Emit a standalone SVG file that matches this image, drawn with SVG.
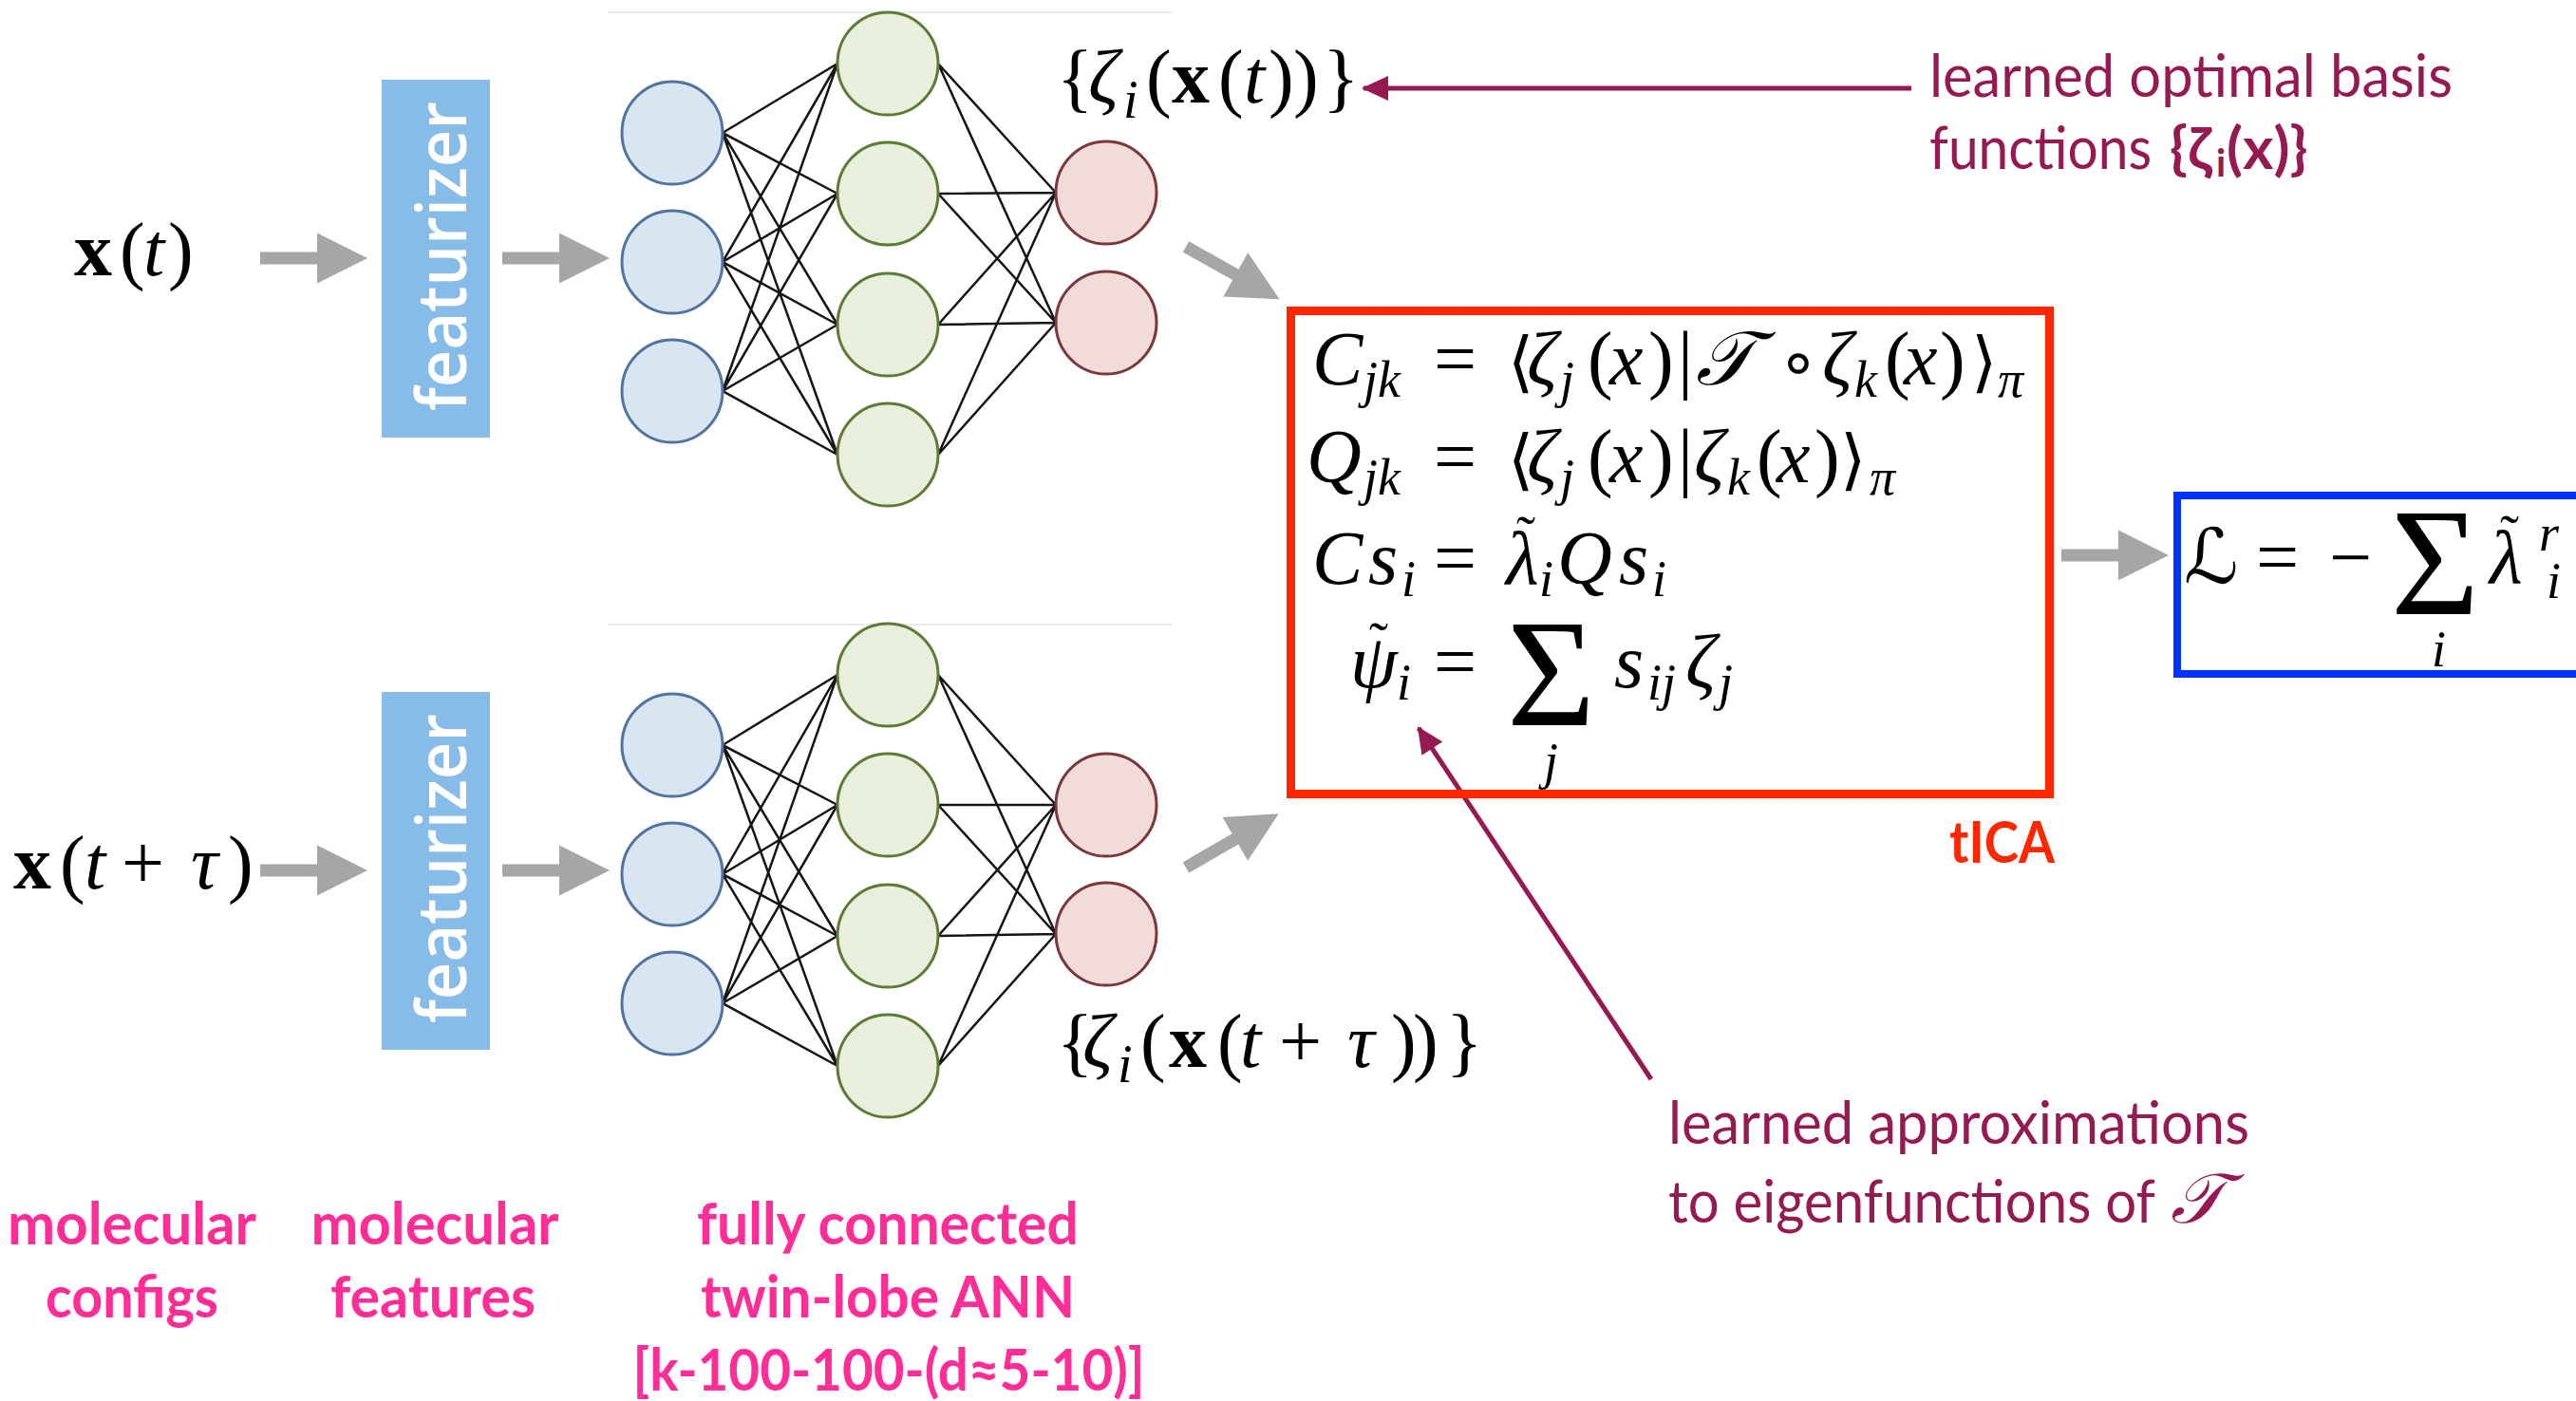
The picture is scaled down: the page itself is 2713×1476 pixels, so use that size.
<svg xmlns="http://www.w3.org/2000/svg" xmlns:xlink="http://www.w3.org/1999/xlink" width="2713" height="1476" viewBox="0 0 2713 1476">
  <defs>
    <style>
      .m { font-family: 'Liberation Serif', 'DejaVu Serif', serif; font-size: 80px; fill: #000; }
      .it { font-style: italic; }
      .bf { font-weight: bold; }
      .sb { font-size: 54px; }
      .tl { font-size: 60px; font-style: normal; }
      .ab { font-family: 'DejaVu Sans', sans-serif; font-size: 70px; }
      .scr { font-family: 'DejaVu Serif', 'DejaVu Sans', 'Liberation Serif', serif; font-style: italic; }
      .feat { font-family: 'Open Sans', 'Noto Sans', sans-serif; font-weight: 600; font-size: 72px; fill: #fff; }
      .featbox { fill: #87BCE9; }
      .pink { font-family: Lato, 'Noto Sans', sans-serif; font-weight: bold; font-size: 62px; fill: #FF2E96; }
      .note { font-family: Lato, 'Noto Sans', sans-serif; font-size: 62px; fill: #951A52; }
      .nb { fill: #DAE5F2; stroke: #50739F; stroke-width: 3; }
      .ng { fill: #E8EFDC; stroke: #5C7B35; stroke-width: 3; }
      .nr { fill: #F2DCDB; stroke: #7A3838; stroke-width: 3; }
      .edge { stroke: #151515; stroke-width: 2.5; fill: none; }
      .sep { stroke: #EBEBEB; stroke-width: 2; }
      .fat { fill: #A6A6A6; }
      .pline { stroke: #951A52; stroke-width: 5; fill: none; }
    </style>
    <path id="fat-arrow" d="M0,-6.5 H60 V-26.5 L113,0 L60,26.5 V6.5 H0 Z"/>
    <marker id="phead" markerUnits="userSpaceOnUse" markerWidth="30" markerHeight="28" refX="26" refY="13" orient="auto">
      <path d="M0,0 L28,13 L0,26 Z" fill="#951A52"/>
    </marker>
  </defs>

  <rect width="2713" height="1476" fill="#fff"/>

  <!-- thin rules above each network lobe -->
  <line class="sep" x1="640" y1="13" x2="1234" y2="13"/>
  <line class="sep" x1="640" y1="658" x2="1234" y2="658"/>

  <g id="connectors">
    <g class="edge">
      <!-- upper lobe: input -> hidden -> output -->
      <path d="M761,140 L882,67 M761,140 L882,204 M761,140 L882,342 M761,140 L882,479
               M761,276 L882,67 M761,276 L882,204 M761,276 L882,342 M761,276 L882,479
               M761,412 L882,67 M761,412 L882,204 M761,412 L882,342 M761,412 L882,479
               M988,67 L1112,203 M988,67 L1112,340 M988,204 L1112,203 M988,204 L1112,340
               M988,342 L1112,203 M988,342 L1112,340 M988,479 L1112,203 M988,479 L1112,340"/>
      <!-- lower lobe -->
      <path d="M761,785 L882,711 M761,785 L882,848 M761,785 L882,986 M761,785 L882,1123
               M761,921 L882,711 M761,921 L882,848 M761,921 L882,986 M761,921 L882,1123
               M761,1057 L882,711 M761,1057 L882,848 M761,1057 L882,986 M761,1057 L882,1123
               M988,711 L1112,848 M988,711 L1112,984 M988,848 L1112,848 M988,848 L1112,984
               M988,986 L1112,848 M988,986 L1112,984 M988,1123 L1112,848 M988,1123 L1112,984"/>
    </g>
    <!-- grey flow arrows -->
    <g class="fat">
      <use xlink:href="#fat-arrow" transform="translate(274,272)"/>
      <use xlink:href="#fat-arrow" transform="translate(529,272)"/>
      <use xlink:href="#fat-arrow" transform="translate(274,917)"/>
      <use xlink:href="#fat-arrow" transform="translate(529,917)"/>
      <use xlink:href="#fat-arrow" transform="translate(1249,260) rotate(29.3)"/>
      <use xlink:href="#fat-arrow" transform="translate(1249,914) rotate(-30.2)"/>
      <use xlink:href="#fat-arrow" transform="translate(2171,585)"/>
    </g>
    <!-- annotation pointers -->
    <line class="pline" x1="2013" y1="93" x2="1436" y2="93" marker-end="url(#phead)"/>
    <line class="pline" x1="1739" y1="1137" x2="1494" y2="767" marker-end="url(#phead)"/>
  </g>

  <!-- inputs -->
  <g id="input-xt">
    <text class="m" font-size="84"><tspan class="bf" x="78" y="290">x</tspan><tspan x="126" y="290">(</tspan><tspan class="it" x="151" y="290">t</tspan><tspan x="177" y="290">)</tspan></text>
  </g>
  <g id="input-xttau">
    <text class="m" font-size="84"><tspan class="bf" x="14" y="936">x</tspan><tspan x="63" y="936">(</tspan><tspan class="it" x="89" y="936">t</tspan><tspan x="128" y="936">+</tspan><tspan class="it" x="201" y="936">τ</tspan><tspan x="240" y="936">)</tspan></text>
  </g>

  <!-- featurizers -->
  <g id="featurizer-top">
    <rect class="featbox" x="402" y="84" width="114" height="377"/>
    <text class="feat" transform="translate(491,270) rotate(-90)" text-anchor="middle" textLength="326" lengthAdjust="spacingAndGlyphs">featurizer</text>
  </g>
  <g id="featurizer-bottom">
    <rect class="featbox" x="402" y="729" width="114" height="377"/>
    <text class="feat" transform="translate(491,915) rotate(-90)" text-anchor="middle" textLength="326" lengthAdjust="spacingAndGlyphs">featurizer</text>
  </g>

  <!-- upper network lobe -->
  <g id="net-top">
    <g id="top-in-1"><ellipse class="nb" cx="708" cy="140" rx="53" ry="54"/></g>
    <g id="top-in-2"><ellipse class="nb" cx="708" cy="276" rx="53" ry="54"/></g>
    <g id="top-in-3"><ellipse class="nb" cx="708" cy="412" rx="53" ry="54"/></g>
    <g id="top-hid-1"><ellipse class="ng" cx="935" cy="67" rx="53" ry="54"/></g>
    <g id="top-hid-2"><ellipse class="ng" cx="935" cy="204" rx="53" ry="54"/></g>
    <g id="top-hid-3"><ellipse class="ng" cx="935" cy="342" rx="53" ry="54"/></g>
    <g id="top-hid-4"><ellipse class="ng" cx="935" cy="479" rx="53" ry="54"/></g>
    <g id="top-out-1"><ellipse class="nr" cx="1165" cy="203" rx="53" ry="54"/></g>
    <g id="top-out-2"><ellipse class="nr" cx="1165" cy="340" rx="53" ry="54"/></g>
  </g>

  <!-- lower network lobe -->
  <g id="net-bottom">
    <g id="bot-in-1"><ellipse class="nb" cx="708" cy="785" rx="53" ry="54"/></g>
    <g id="bot-in-2"><ellipse class="nb" cx="708" cy="921" rx="53" ry="54"/></g>
    <g id="bot-in-3"><ellipse class="nb" cx="708" cy="1057" rx="53" ry="54"/></g>
    <g id="bot-hid-1"><ellipse class="ng" cx="935" cy="711" rx="53" ry="54"/></g>
    <g id="bot-hid-2"><ellipse class="ng" cx="935" cy="848" rx="53" ry="54"/></g>
    <g id="bot-hid-3"><ellipse class="ng" cx="935" cy="986" rx="53" ry="54"/></g>
    <g id="bot-hid-4"><ellipse class="ng" cx="935" cy="1123" rx="53" ry="54"/></g>
    <g id="bot-out-1"><ellipse class="nr" cx="1165" cy="848" rx="53" ry="54"/></g>
    <g id="bot-out-2"><ellipse class="nr" cx="1165" cy="984" rx="53" ry="54"/></g>
  </g>

  <!-- output set labels -->
  <g id="zeta-top">
    <text class="m" font-size="84"><tspan x="1113" y="108">{</tspan><tspan class="it" x="1146" y="108">ζ</tspan><tspan class="it" font-size="56" x="1183" y="124">i</tspan><tspan x="1207" y="108">(</tspan><tspan class="bf" x="1234" y="108">x</tspan><tspan x="1283" y="108">(</tspan><tspan class="it" x="1310" y="108">t</tspan><tspan x="1336" y="108">)</tspan><tspan x="1362" y="108">)</tspan><tspan x="1393" y="108">}</tspan></text>
  </g>
  <g id="zeta-bottom">
    <text class="m" font-size="84"><tspan x="1113" y="1124">{</tspan><tspan class="it" x="1140" y="1124">ζ</tspan><tspan class="it" font-size="56" x="1177" y="1140">i</tspan><tspan x="1201" y="1124">(</tspan><tspan class="bf" x="1231" y="1124">x</tspan><tspan x="1282" y="1124">(</tspan><tspan class="it" x="1306" y="1124">t</tspan><tspan x="1347" y="1124">+</tspan><tspan class="it" x="1419" y="1124">τ</tspan><tspan x="1465" y="1124">)</tspan><tspan x="1488" y="1124">)</tspan><tspan x="1523" y="1124">}</tspan></text>
  </g>

  <!-- tICA block -->
  <g id="tica">
    <rect x="1359.5" y="327.5" width="799" height="509" fill="none" stroke="#FF2600" stroke-width="9"/>
    <text class="m">
      <tspan class="it" x="1382" y="405">C</tspan><tspan class="it sb" x="1436" y="418">jk</tspan><tspan x="1510" y="405">=</tspan><tspan class="ab" x="1588" y="405">⟨</tspan><tspan class="it" x="1608" y="405">ζ</tspan><tspan class="it sb" x="1643" y="418">j</tspan><tspan x="1672" y="405">(</tspan><tspan class="it" x="1695" y="405">x</tspan><tspan x="1736" y="405">)</tspan><tspan x="1767" y="405">|</tspan><tspan class="scr" x="1786" y="405">𝒯</tspan><tspan class="ab" x="1872" y="405">∘</tspan><tspan class="it" x="1919" y="405">ζ</tspan><tspan class="it sb" x="1953" y="418">k</tspan><tspan x="1985" y="405">(</tspan><tspan class="it" x="2005" y="405">x</tspan><tspan x="2043" y="405">)</tspan><tspan class="ab" x="2076" y="405">⟩</tspan><tspan class="it sb" x="2104" y="418">π</tspan>
    </text>
    <text class="m">
      <tspan class="it" x="1376" y="508">Q</tspan><tspan class="it sb" x="1436" y="521">jk</tspan><tspan x="1510" y="508">=</tspan><tspan class="ab" x="1588" y="508">⟨</tspan><tspan class="it" x="1608" y="508">ζ</tspan><tspan class="it sb" x="1643" y="521">j</tspan><tspan x="1672" y="508">(</tspan><tspan class="it" x="1695" y="508">x</tspan><tspan x="1736" y="508">)</tspan><tspan x="1767" y="508">|</tspan><tspan class="it" x="1784" y="508">ζ</tspan><tspan class="it sb" x="1819" y="521">k</tspan><tspan x="1850" y="508">(</tspan><tspan class="it" x="1871" y="508">x</tspan><tspan x="1911" y="508">)</tspan><tspan class="ab" x="1938" y="508">⟩</tspan><tspan class="it sb" x="1969" y="521">π</tspan>
    </text>
    <text class="m">
      <tspan class="it" x="1382" y="615">C</tspan><tspan class="it" x="1441" y="615">s</tspan><tspan class="it sb" x="1476" y="628">i</tspan><tspan x="1510" y="615">=</tspan><tspan class="tl" x="1597" y="584">˜</tspan><tspan class="it" x="1586" y="615">λ</tspan><tspan class="it sb" x="1621" y="628">i</tspan><tspan class="it" x="1640" y="615">Q</tspan><tspan class="it" x="1705" y="615">s</tspan><tspan class="it sb" x="1740" y="628">i</tspan>
    </text>
    <text class="m">
      <tspan class="tl" x="1442" y="696">˜</tspan><tspan class="it" x="1422" y="724">ψ</tspan><tspan class="it sb" x="1471" y="737">i</tspan><tspan x="1510" y="724">=</tspan><tspan x="1587" y="764" font-size="160">Σ</tspan><tspan class="it sb" x="1626" y="820">j</tspan><tspan class="it" x="1700" y="724">s</tspan><tspan class="it sb" x="1735" y="737">ij</tspan><tspan class="it" x="1775" y="724">ζ</tspan><tspan class="it sb" x="1810" y="737">j</tspan>
    </text>
    <text x="2164" y="909" text-anchor="end" font-family="Lato, 'Noto Sans', sans-serif" font-weight="bold" font-size="62" fill="#FF2600" textLength="111" lengthAdjust="spacingAndGlyphs">tICA</text>
  </g>

  <!-- loss block -->
  <g id="loss">
    <rect x="2293" y="522" width="460" height="188" fill="none" stroke="#0033FF" stroke-width="8"/>
    <text class="m">
      <tspan class="scr" x="2300" y="614">ℒ</tspan><tspan x="2376" y="614">=</tspan><tspan x="2453" y="614">−</tspan><tspan x="2518" y="647" font-size="160">Σ</tspan><tspan class="it sb" x="2561" y="702">i</tspan><tspan class="tl" x="2633" y="583">˜</tspan><tspan class="it" x="2622" y="614">λ</tspan><tspan class="it sb" x="2674" y="580">r</tspan><tspan class="it sb" x="2682" y="630">i</tspan>
    </text>
  </g>

  <!-- annotations -->
  <g id="note-basis">
    <text class="note" x="2032" y="102" textLength="551" lengthAdjust="spacingAndGlyphs">learned optimal basis</text>
    <text class="note"><tspan x="2032" y="178" textLength="234" lengthAdjust="spacingAndGlyphs">functions</tspan><tspan font-weight="bold" x="2285" y="178">{ζ</tspan><tspan font-weight="bold" font-size="40" x="2334" y="186">i</tspan><tspan font-weight="bold" x="2345" y="178">(x)}</tspan></text>
  </g>
  <g id="note-eigen">
    <text class="note" x="1757" y="1205" textLength="612" lengthAdjust="spacingAndGlyphs">learned approximations</text>
    <text class="note"><tspan x="1757" y="1288" textLength="513" lengthAdjust="spacingAndGlyphs">to eigenfunctions of</tspan><tspan class="scr" font-size="74" x="2286" y="1288">𝒯</tspan></text>
  </g>

  <!-- column captions -->
  <g id="captions">
    <text class="pink" x="139" y="1311" text-anchor="middle" textLength="262" lengthAdjust="spacingAndGlyphs">molecular</text>
    <text class="pink" x="139" y="1388" text-anchor="middle" textLength="182" lengthAdjust="spacingAndGlyphs">configs</text>
    <text class="pink" x="458" y="1311" text-anchor="middle" textLength="261" lengthAdjust="spacingAndGlyphs">molecular</text>
    <text class="pink" x="456" y="1388" text-anchor="middle" textLength="216" lengthAdjust="spacingAndGlyphs">features</text>
    <text class="pink" x="935" y="1311" text-anchor="middle" textLength="402" lengthAdjust="spacingAndGlyphs">fully connected</text>
    <text class="pink" x="935" y="1388" text-anchor="middle" textLength="394" lengthAdjust="spacingAndGlyphs">twin-lobe ANN</text>
    <text class="pink" x="936" y="1465" text-anchor="middle" textLength="539" lengthAdjust="spacingAndGlyphs">[k-100-100-(d≈5-10)]</text>
  </g>
</svg>
